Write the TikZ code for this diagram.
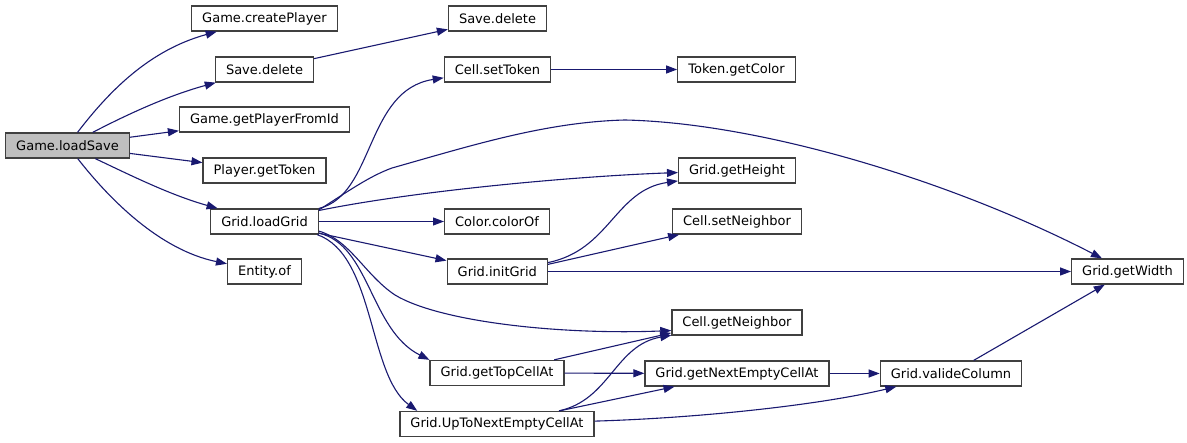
\documentclass[tikz,border=0pt]{standalone}
\usepackage{fontspec}
\setmainfont{DejaVu Sans}
\usetikzlibrary{arrows.meta}
\definecolor{edgeblue}{RGB}{25,25,112}
\definecolor{boxgray}{RGB}{64,64,64}
\definecolor{rootgray}{RGB}{191,191,191}

\begin{document}
\begin{tikzpicture}[x=1pt,y=-1pt,
    fn/.style={draw=boxgray,line width=1.3pt,fill=white,minimum height=25pt,
      inner xsep=10.5pt,inner ysep=0pt,font=\fontsize{13}{15}\selectfont},
    root/.style={fn,fill=rootgray},
    call/.style={edgeblue,line width=1.1pt,-{Triangle[length=11pt,width=8pt]}}]
    \useasboundingbox (0,0) rectangle (1187,443);

    \node[root] (ls) at (67.5,145.5) {Game.loadSave};
    \node[fn] (cp) at (264.5,18.5) {Game.createPlayer};
    \node[fn] (sd1) at (264.5,69.5) {Save.delete};
    \node[fn] (gp) at (264.5,119.5) {Game.getPlayerFromId};
    \node[fn] (pt) at (264.5,170.5) {Player.getToken};
    \node[fn] (lg) at (264.5,221.5) {Grid.loadGrid};
    \node[fn] (eo) at (264.5,271.5) {Entity.of};
    \node[fn] (sd2) at (497.5,18.5) {Save.delete};
    \node[fn] (cst) at (497.5,69.5) {Cell.setToken};
    \node[fn] (cco) at (497,221.5) {Color.colorOf};
    \node[fn] (gi) at (497.3,271.5) {Grid.initGrid};
    \node[fn] (gtc) at (497,373) {Grid.getTopCellAt};
    \node[fn] (gup) at (497,424) {Grid.UpToNextEmptyCellAt};
    \node[fn] (tgc) at (736.5,69.5) {Token.getColor};
    \node[fn] (gh) at (737,170.5) {Grid.getHeight};
    \node[fn] (csn) at (737,221.5) {Cell.setNeighbor};
    \node[fn] (cgn) at (737,322.5) {Cell.getNeighbor};
    \node[fn] (gne) at (737,373.5) {Grid.getNextEmptyCellAt};
    \node[fn] (gvc) at (951,373.5) {Grid.valideColumn};
    \node[fn] (gw) at (1127.5,271.5) {Grid.getWidth};

    \draw[call] (ls) .. controls (110,90) and (150,50) .. (cp);
    \draw[call] (ls) .. controls (130,113) and (170,95) .. (sd1);
    \draw[call] (ls) -- (gp);
    \draw[call] (ls) -- (pt);
    \draw[call] (ls) .. controls (130,175) and (170,195) .. (lg);
    \draw[call] (ls) .. controls (110,200) and (160,250) .. (eo);
    \draw[call] (sd1) -- (sd2);
    \draw[call] (cst) -- (tgc);

    \draw[call] (lg) .. controls (375,195) and (365,90) .. (cst);
    \draw[call] (lg.12) .. controls (350,190) and (370,176) .. (392,168)
      .. controls (470,146) and (545,122) .. (625,120)
      .. controls (760,123) and (950,180) .. (gw);
    \draw[call] (lg) .. controls (420,190) and (580,176) .. (gh);
    \draw[call] (lg) -- (cco);
    \draw[call] (lg) -- (gi);
    \draw[call] (lg.350) .. controls (350,240) and (365,275) .. (395,295)
      .. controls (440,322) and (560,335) .. (cgn.187);
    \draw[call] (lg.348) .. controls (370,245) and (370,330) .. (gtc.north west);
    \draw[call] (lg.346) .. controls (375,255) and (368,375) .. ([xshift=18pt]gup.north west);

    \draw[call] (gi.10) .. controls (610,250) and (615,190) .. (gh.190);
    \draw[call] (gi.8) -- (csn);
    \draw[call] (gi) -- (gw);
    \draw[call] (gtc) -- (cgn.189);
    \draw[call] (gtc) -- (gne);
    \draw[call] (gup) .. controls (610,400) and (615,345) .. (cgn.191);
    \draw[call] (gup) -- (gne);
    \draw[call] (gup) .. controls (700,418) and (820,405) .. (gvc);
    \draw[call] (gne) -- (gvc);
    \draw[call] (gvc) -- (gw);
\end{tikzpicture}
\end{document}
